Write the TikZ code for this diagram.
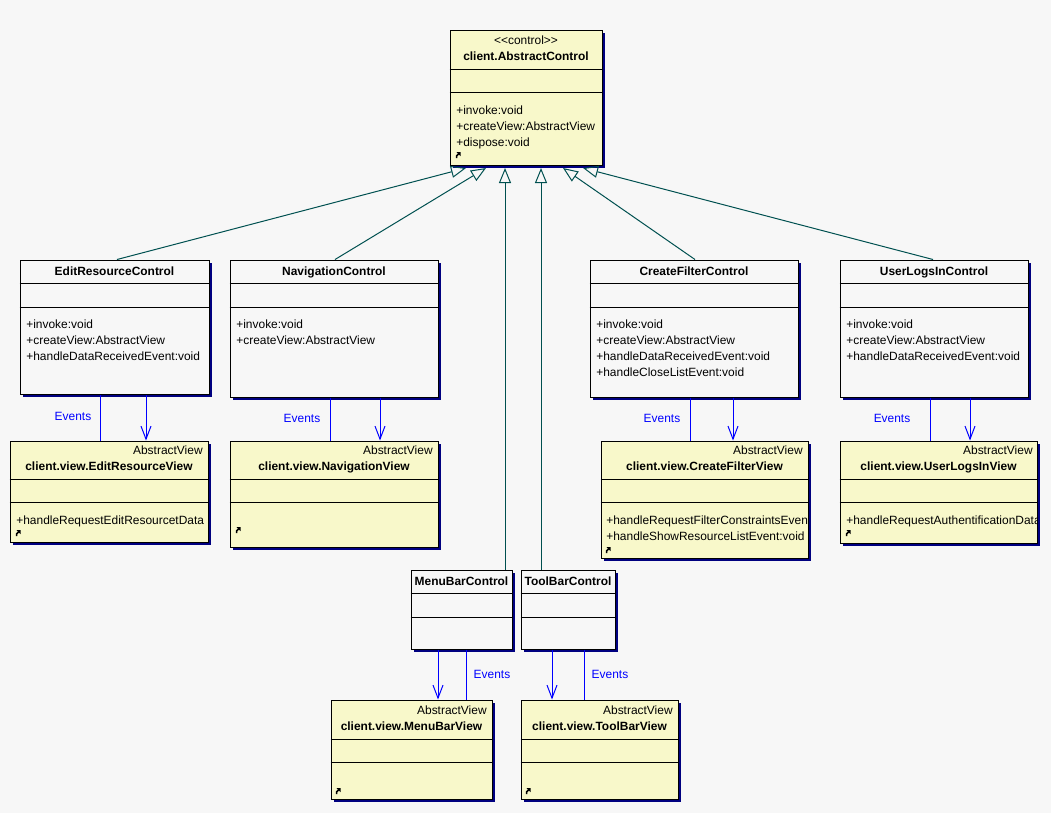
\documentclass[tikz,border=0pt]{standalone}
\usepackage{fontspec}
\setmainfont{Liberation Sans}
\usetikzlibrary{arrows.meta, shadows, fit}
\definecolor{bg}{RGB}{247,247,247}
\definecolor{note}{RGB}{248,248,202}
\definecolor{shade}{RGB}{0,0,128}
\definecolor{gencol}{RGB}{0,80,80}

\begin{document}
\begin{tikzpicture}[x=0.2mm, y=-0.2mm,
    every node/.style={inner sep=0pt, font=\fontsize{6.8}{8}\selectfont},
    box/.style={draw, line width=0.2mm, fill=bg,
      general shadow={fill=shade, shadow xshift=0.6mm, shadow yshift=-0.6mm}},
    viewbox/.style={box, fill=note},
    title/.style={anchor=base, font=\fontsize{6.8}{8}\selectfont\bfseries},
    op/.style={anchor=base west},
    stereo/.style={anchor=base east},
    cmpline/.style={line width=0.2mm},
    gen/.style={gencol, line width=0.2mm, -{Triangle[open, length=3mm, width=2.4mm]}},
    dep/.style={blue, line width=0.2mm, -{Straight Barb[length=2.6mm, width=2mm]}},
    evt/.style={blue, line width=0.2mm},
    evtlabel/.style={text=blue}]
      % 1. background and page size
      \fill[bg] (0,0) rectangle (1051,813);
      \useasboundingbox (0,0) rectangle (1051,813);

      % 2. the class boxes
      \node[viewbox, fit={(450,30) (602,165)}] (abs) {};
      \node[box, fit={(20,260) (209,394)}] (ctlEdit) {};
      \node[box, fit={(230,260) (438,397)}] (ctlNav) {};
      \node[box, fit={(590,260) (798,397)}] (ctlFilter) {};
      \node[box, fit={(840,260) (1028,397)}] (ctlLogin) {};
      \node[box, fit={(411,570) (512,649)}] (ctlMenu) {};
      \node[box, fit={(521,570) (615,649)}] (ctlTool) {};
      \node[viewbox, fit={(10,441) (208,542)}] (viewEdit) {};
      \node[viewbox, fit={(230,441) (438,547)}] (viewNav) {};
      \node[viewbox, fit={(601,441) (808,558)}] (viewFilter) {};
      \node[viewbox, fit={(840,441) (1037,543)}] (viewLogin) {};
      \node[viewbox, fit={(331,700) (492,799)}] (viewMenu) {};
      \node[viewbox, fit={(521,700) (678,799)}] (viewTool) {};

      % 3. compartment lines
      \foreach \b/\ya/\yb in {abs/69/92, ctlEdit/283/307, ctlNav/283/307,
          ctlFilter/283/307, ctlLogin/283/307, ctlMenu/593/617, ctlTool/593/617,
          viewEdit/479/502, viewNav/479/502, viewFilter/479/502,
          viewLogin/479/502, viewMenu/739/762, viewTool/739/762}
        \draw[cmpline] (\b.west |- 0,\ya) -- (\b.east |- 0,\ya)
                       (\b.west |- 0,\yb) -- (\b.east |- 0,\yb);

      % 4. client.AbstractControl
      \node[anchor=base] (abs-st) at (abs.north |- 0,44) {<{}<control>{}>};
      \node[title] (abs-name) at (abs.north |- 0,60) {client.AbstractControl};
      \foreach \t [count=\i] in {+invoke:void, +createView:AbstractView, +dispose:void}
        \node[op] (abs-op\i) at (456,98+16*\i) {\t};

      % 5. the controls
      \node[title] (ctlEdit-name) at (ctlEdit.north |- 0,275) {EditResourceControl};
      \foreach \t [count=\i] in {+invoke:void, +createView:AbstractView,
          +handleDataReceivedEvent:void}
        \node[op] (ctlEdit-op\i) at (26,312+16*\i) {\t};
      \node[title] (ctlNav-name) at (ctlNav.north |- 0,275) {NavigationControl};
      \foreach \t [count=\i] in {+invoke:void, +createView:AbstractView}
        \node[op] (ctlNav-op\i) at (236,312+16*\i) {\t};
      \node[title] (ctlFilter-name) at (ctlFilter.north |- 0,275) {CreateFilterControl};
      \foreach \t [count=\i] in {+invoke:void, +createView:AbstractView,
          +handleDataReceivedEvent:void, +handleCloseListEvent:void}
        \node[op] (ctlFilter-op\i) at (596,312+16*\i) {\t};
      \node[title] (ctlLogin-name) at (ctlLogin.north |- 0,275) {UserLogsInControl};
      \foreach \t [count=\i] in {+invoke:void, +createView:AbstractView,
          +handleDataReceivedEvent:void}
        \node[op] (ctlLogin-op\i) at (846,312+16*\i) {\t};
      \node[title] (ctlMenu-name) at (ctlMenu.north |- 0,585) {MenuBarControl};
      \node[title] (ctlTool-name) at (ctlTool.north |- 0,585) {ToolBarControl};

      % 6. the views
      \foreach \b/\xr/\yr in {viewEdit/203/454, viewNav/433/454, viewFilter/803/454,
          viewLogin/1033/454, viewMenu/487/714, viewTool/673/714}
        \node[stereo] (\b-st) at (\xr,\yr) {AbstractView};
      \node[title] (viewEdit-name) at (viewEdit.north |- 0,470) {client.view.EditResourceView};
      \node[title] (viewNav-name) at (viewNav.north |- 0,470) {client.view.NavigationView};
      \node[title] (viewFilter-name) at (viewFilter.north |- 0,470) {client.view.CreateFilterView};
      \node[title] (viewLogin-name) at (viewLogin.north |- 0,470) {client.view.UserLogsInView};
      \node[title] (viewMenu-name) at (viewMenu.north |- 0,730) {client.view.MenuBarView};
      \node[title] (viewTool-name) at (viewTool.north |- 0,730) {client.view.ToolBarView};
      \begin{scope}
        \clip (viewEdit.south west) rectangle ([xshift=-0.3mm]viewEdit.north east);
        \node[op] (viewEdit-op1) at (16,524) {+handleRequestEditResourcetData};
      \end{scope}
      \begin{scope}
        \clip (viewFilter.south west) rectangle ([xshift=-0.3mm]viewFilter.north east);
        \node[op] (viewFilter-op1) at (606,524) {+handleRequestFilterConstraintsEvent};
        \node[op] (viewFilter-op2) at (606,540) {+handleShowResourceListEvent:void};
      \end{scope}
      \begin{scope}
        \clip (viewLogin.south west) rectangle ([xshift=-0.3mm]viewLogin.north east);
        \node[op] (viewLogin-op1) at (846,524) {+handleRequestAuthentificationData};
      \end{scope}

      % 7. small link icons
      \foreach \p in {(455,152), (15,530), (235,527), (605,547), (845,530),
          (335,788), (525,788)}
      {
        \fill[shift={\p}] (1.5,0) -- (5.5,0) -- (5.5,4) -- cycle;
        \draw[shift={\p}, line width=0.3mm] (4,1.5) -- (1.5,4) -- (1.5,6);
      }

      % 8. generalizations to client.AbstractControl
      \coordinate (absEdit) at (466,168);
      \coordinate (absNav) at (486,168);
      \coordinate (absMenu) at (505,168);
      \coordinate (absTool) at (541,168);
      \coordinate (absFilter) at (563,168);
      \coordinate (absLogin) at (583,168);
      \draw[gen] (ctlEdit.north -| 117,0) -- (absEdit);
      \draw[gen] (ctlNav.north -| 335,0) -- (absNav);
      \draw[gen] (ctlMenu.north -| 505,0) -- (absMenu);
      \draw[gen] (ctlTool.north -| 541,0) -- (absTool);
      \draw[gen] (ctlFilter.north -| 695,0) -- (absFilter);
      \draw[gen] (ctlLogin.north -| 933,0) -- (absLogin);

      % 9. control -> view links and events
      \draw[evt] (ctlEdit.south -| 100,0) -- (viewEdit.north -| 100,0);
      \draw[dep] (ctlEdit.south -| 146,0) -- (viewEdit.north -| 146,0);
      \draw[evt] (ctlNav.south -| 330,0) -- (viewNav.north -| 330,0);
      \draw[dep] (ctlNav.south -| 380,0) -- (viewNav.north -| 380,0);
      \draw[evt] (ctlFilter.south -| 690,0) -- (viewFilter.north -| 690,0);
      \draw[dep] (ctlFilter.south -| 733,0) -- (viewFilter.north -| 733,0);
      \draw[evt] (ctlLogin.south -| 930,0) -- (viewLogin.north -| 930,0);
      \draw[dep] (ctlLogin.south -| 970,0) -- (viewLogin.north -| 970,0);
      \draw[dep] (ctlMenu.south -| 438,0) -- (viewMenu.north -| 438,0);
      \draw[evt] (ctlMenu.south -| 466,0) -- (viewMenu.north -| 466,0);
      \draw[dep] (ctlTool.south -| 552,0) -- (viewTool.north -| 552,0);
      \draw[evt] (ctlTool.south -| 584,0) -- (viewTool.north -| 584,0);
      \node[evtlabel] (evtEdit) at (73,416) {Events};
      \node[evtlabel] (evtNav) at (302,418) {Events};
      \node[evtlabel] (evtFilter) at (662,418) {Events};
      \node[evtlabel] (evtLogin) at (892,418) {Events};
      \node[evtlabel] (evtMenu) at (492,674) {Events};
      \node[evtlabel] (evtTool) at (610,674) {Events};
\end{tikzpicture}
\end{document}
